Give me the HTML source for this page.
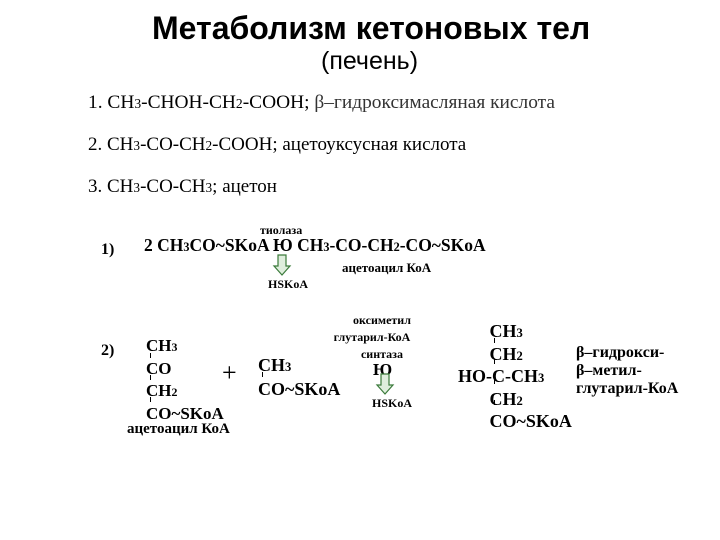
<!DOCTYPE html>
<html><head><meta charset="utf-8"><style>
body{margin:0;width:720px;height:540px;background:#fff;position:relative;overflow:hidden;font-family:"Liberation Serif",serif;color:#000}
.a{position:absolute;white-space:nowrap;line-height:1}
.s{font-family:"Liberation Sans",sans-serif}
.b{font-weight:bold}
sub{font-size:70%;vertical-align:0}
.sm{font-size:12px;font-weight:bold}
.t{position:absolute;width:1px;background:#000}
</style></head><body>
<div class="a s b" style="left:152px;top:12px;font-size:32px">Метаболизм кетоновых тел</div>
<div class="a s" style="left:321px;top:49px;font-size:25px">(печень)</div>
<div class="a" style="left:88px;top:93px;font-size:19.4px">1. CH<sub>3</sub>-CHOH-CH<sub>2</sub>-COOH; <span style="color:#333">β–гидроксимасляная кислота</span></div>
<div class="a" style="left:88px;top:135px;font-size:19px">2. CH<sub>3</sub>-CO-CH<sub>2</sub>-COOH; ацетоуксусная кислота</div>
<div class="a" style="left:88px;top:177px;font-size:19px">3. CH<sub>3</sub>-CO-CH<sub>3</sub>; ацетон</div>

<div class="a sm" style="left:260px;top:224px">тиолаза</div>
<div class="a b" style="left:101px;top:242px;font-size:16px">1)</div>
<div class="a b" style="left:144px;top:237px;font-size:17.5px">2 CH<sub>3</sub>CO~SKoA Ю CH<sub>3</sub>-CO-CH<sub>2</sub>-CO~SKoA</div>
<div class="a sm" style="left:342px;top:261px;font-size:13px">ацетоацил КоА</div>
<svg style="position:absolute;left:272px;top:254px" width="20" height="22"><path d="M6 1h8v11h4l-8 9-8-9h4z" fill="#dfeedd" stroke="#3a7a3a" stroke-width="1.2"/></svg>
<div class="a sm" style="left:268px;top:278px">HSKoA</div>

<div class="a b" style="left:101px;top:343px;font-size:16px">2)</div>
<div class="a b" style="left:146px;top:335px;font-size:17px;line-height:22px">CH<sub>3</sub><br>CO<br>CH<sub>2</sub><br>CO~SKoA</div>
<div class="t" style="left:150px;top:353px;height:5px"></div>
<div class="t" style="left:150px;top:375px;height:5px"></div>
<div class="t" style="left:150px;top:397px;height:5px"></div>
<div class="a b" style="left:127px;top:422px;font-size:15px">ацетоацил КоА</div>
<div class="a" style="left:222px;top:360px;font-size:26px">+</div>
<div class="a b" style="left:258px;top:354px;font-size:18px;line-height:22px">CH<sub>3</sub><br>CO~SKoA</div>
<div class="t" style="left:262px;top:372px;height:5px"></div>
<div class="a sm" style="left:352px;top:312px;width:60px;text-align:center;line-height:17px">оксиметил<br><span style="margin-left:-20px">глутарил-КоА</span><br>синтаза</div>
<div class="a b" style="left:373px;top:361px;font-size:17px">Ю</div>
<svg style="position:absolute;left:375px;top:373px" width="20" height="22"><path d="M6 1h8v11h4l-8 9-8-9h4z" fill="#dfeedd" stroke="#3a7a3a" stroke-width="1.2"/></svg>
<div class="a sm" style="left:372px;top:397px">HSKoA</div>

<div class="a b" style="left:458px;top:321px;font-size:18px;line-height:20.5px">&nbsp;&nbsp;&nbsp;&nbsp;&nbsp;&nbsp;&nbsp;CH<sub>3</sub><br>&nbsp;&nbsp;&nbsp;&nbsp;&nbsp;&nbsp;&nbsp;CH<sub>2</sub><br>HO-C-CH<sub>3</sub><br>&nbsp;&nbsp;&nbsp;&nbsp;&nbsp;&nbsp;&nbsp;CH<sub>2</sub><br>&nbsp;&nbsp;&nbsp;&nbsp;&nbsp;&nbsp;&nbsp;CO~SKoA</div>
<div class="t" style="left:494px;top:338px;height:5px"></div>
<div class="t" style="left:494px;top:359px;height:5px"></div>
<div class="t" style="left:494px;top:379px;height:5px"></div>
<div class="t" style="left:494px;top:400px;height:5px"></div>
<div class="a b" style="left:576px;top:344px;font-size:16px;line-height:18px">β–гидрокси-<br>β–метил-<br>глутарил-КоА</div>
</body></html>
